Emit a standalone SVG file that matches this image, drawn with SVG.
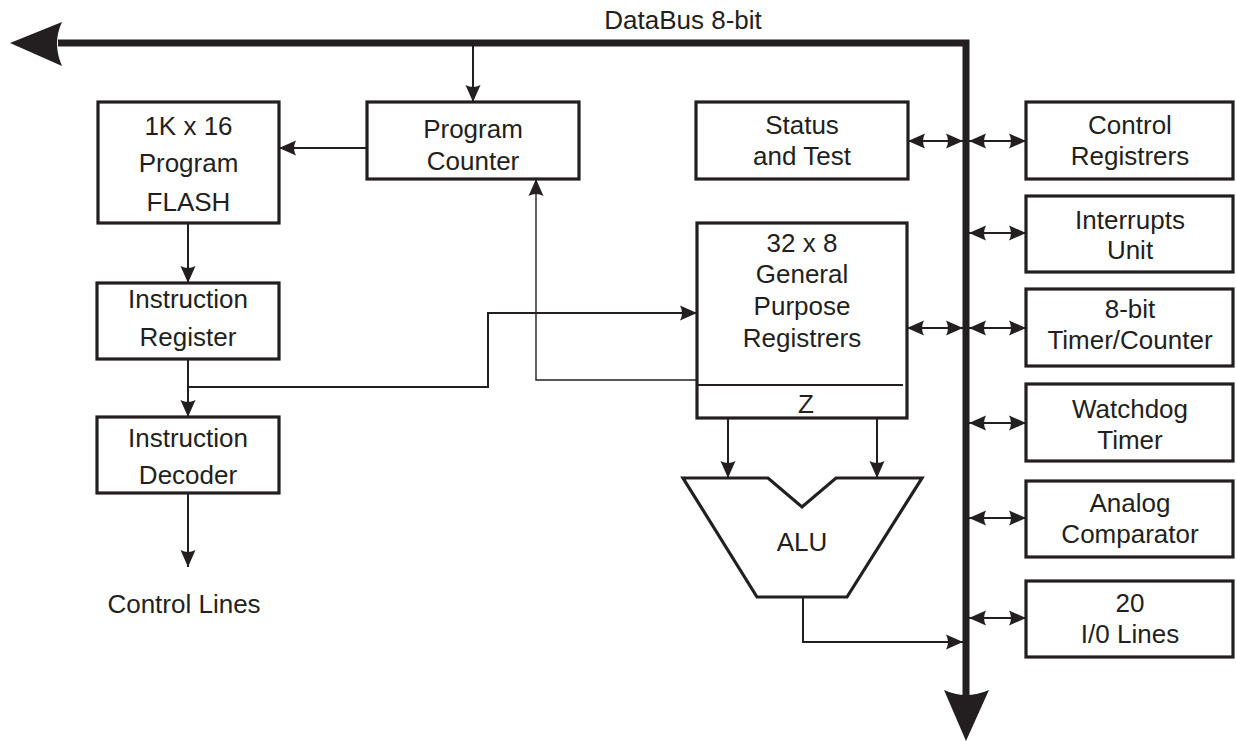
<svg xmlns="http://www.w3.org/2000/svg" width="1236" height="741" viewBox="0 0 1236 741">
<style>
.box{fill:#fff;stroke:#231f20;stroke-width:3.2}
.t{font-family:"Liberation Sans",Arial,Helvetica,sans-serif;font-size:26px;fill:#231f20;text-anchor:middle}
.w{fill:none;stroke:#231f20;stroke-width:2}
.wt{fill:none;stroke:#231f20;stroke-width:1.4}
.a{marker-end:url(#ah)}
.d{marker-start:url(#ah);marker-end:url(#ah)}
</style>
<defs>
<marker id="ah" markerUnits="userSpaceOnUse" markerWidth="18" markerHeight="16" refX="17" refY="7.5" orient="auto-start-reverse" overflow="visible">
<path d="M17,7.5 L0,0 Q4,7.5 0,15 Z" fill="#231f20"/>
</marker>
</defs>
<rect width="1236" height="741" fill="#fff"/>
<g id="bus">
<polyline points="58,43 966,43 966,700" fill="none" stroke="#231f20" stroke-width="7" stroke-linejoin="miter"/>
<path d="M10,43 L62,22 Q52,43 62,66 Z" fill="#231f20"/>
<path d="M966,741 L944,690 Q966,700 989,690 Z" fill="#231f20"/>
<text class="t" x="683" y="29">DataBus 8-bit</text>
</g>
<g id="connectors">
<line class="w a" x1="473" y1="46" x2="473" y2="102"/>
<line class="w a" x1="367" y1="148" x2="279" y2="148"/>
<line class="w a" x1="188" y1="223" x2="188" y2="283"/>
<line class="w a" x1="188" y1="359" x2="188" y2="417"/>
<line class="w a" x1="188" y1="493" x2="188" y2="567"/>
<polyline class="w a" points="188,387 488,387 488,313 697,313"/>
<polyline class="wt a" points="697,380 536,380 536,179"/>
<line class="w a" x1="728" y1="418" x2="728" y2="478"/>
<line class="w a" x1="877" y1="418" x2="877" y2="478"/>
<polyline class="w a" points="803,597 803,642 963,642"/>
<line class="w d" x1="908" y1="141" x2="963" y2="141"/>
<line class="w d" x1="907" y1="328" x2="963" y2="328"/>
<line class="w d" x1="969" y1="141" x2="1026" y2="141"/>
<line class="w d" x1="969" y1="233" x2="1026" y2="233"/>
<line class="w d" x1="969" y1="328" x2="1026" y2="328"/>
<line class="w d" x1="969" y1="423" x2="1026" y2="423"/>
<line class="w d" x1="969" y1="518" x2="1026" y2="518"/>
<line class="w d" x1="969" y1="618" x2="1026" y2="618"/>
</g>
<g id="flash">
<rect class="box" x="98" y="102" width="181" height="121"/>
<text class="t" x="188.5" y="135">1K x 16</text>
<text class="t" x="188.5" y="172">Program</text>
<text class="t" x="188.5" y="211">FLASH</text>
</g>
<g id="pc">
<rect class="box" x="367" y="102" width="212" height="77"/>
<text class="t" x="473" y="138">Program</text>
<text class="t" x="473" y="170">Counter</text>
</g>
<g id="ir">
<rect class="box" x="97" y="283" width="182" height="76"/>
<text class="t" x="188" y="308">Instruction</text>
<text class="t" x="188" y="346">Register</text>
</g>
<g id="id">
<rect class="box" x="97" y="417" width="182" height="76"/>
<text class="t" x="188" y="447">Instruction</text>
<text class="t" x="188" y="484">Decoder</text>
</g>
<g id="controllines">
<text class="t" x="184" y="613">Control Lines</text>
</g>
<g id="status">
<rect class="box" x="696" y="102" width="212" height="77"/>
<text class="t" x="802" y="134">Status</text>
<text class="t" x="802" y="165">and Test</text>
</g>
<g id="gpr">
<rect class="box" x="697" y="223" width="210" height="195"/>
<line x1="697" y1="385" x2="903" y2="385" stroke="#231f20" stroke-width="2"/>
<text class="t" x="802" y="252">32 x 8</text>
<text class="t" x="802" y="283">General</text>
<text class="t" x="802" y="315">Purpose</text>
<text class="t" x="802" y="347">Registrers</text>
<text class="t" x="806" y="413">Z</text>
</g>
<g id="alu">
<polygon class="box" points="683,478 768,478 802,507 836,478 922,478 847,597 757,597"/>
<text class="t" x="802" y="551">ALU</text>
</g>
<g id="ctrlreg">
<rect class="box" x="1026" y="102" width="207" height="77"/>
<text class="t" x="1130" y="134">Control</text>
<text class="t" x="1130" y="165">Registrers</text>
</g>
<g id="interrupts">
<rect class="box" x="1026" y="196" width="207" height="76"/>
<text class="t" x="1130" y="229">Interrupts</text>
<text class="t" x="1130" y="259">Unit</text>
</g>
<g id="timer">
<rect class="box" x="1026" y="289" width="207" height="77"/>
<text class="t" x="1130" y="318">8-bit</text>
<text class="t" x="1130" y="349">Timer/Counter</text>
</g>
<g id="watchdog">
<rect class="box" x="1026" y="384" width="207" height="77"/>
<text class="t" x="1130" y="418">Watchdog</text>
<text class="t" x="1130" y="449">Timer</text>
</g>
<g id="analog">
<rect class="box" x="1026" y="481" width="207" height="76"/>
<text class="t" x="1130" y="512">Analog</text>
<text class="t" x="1130" y="543">Comparator</text>
</g>
<g id="io">
<rect class="box" x="1026" y="581" width="207" height="76"/>
<text class="t" x="1130" y="612">20</text>
<text class="t" x="1130" y="643">I/0 Lines</text>
</g>
</svg>
